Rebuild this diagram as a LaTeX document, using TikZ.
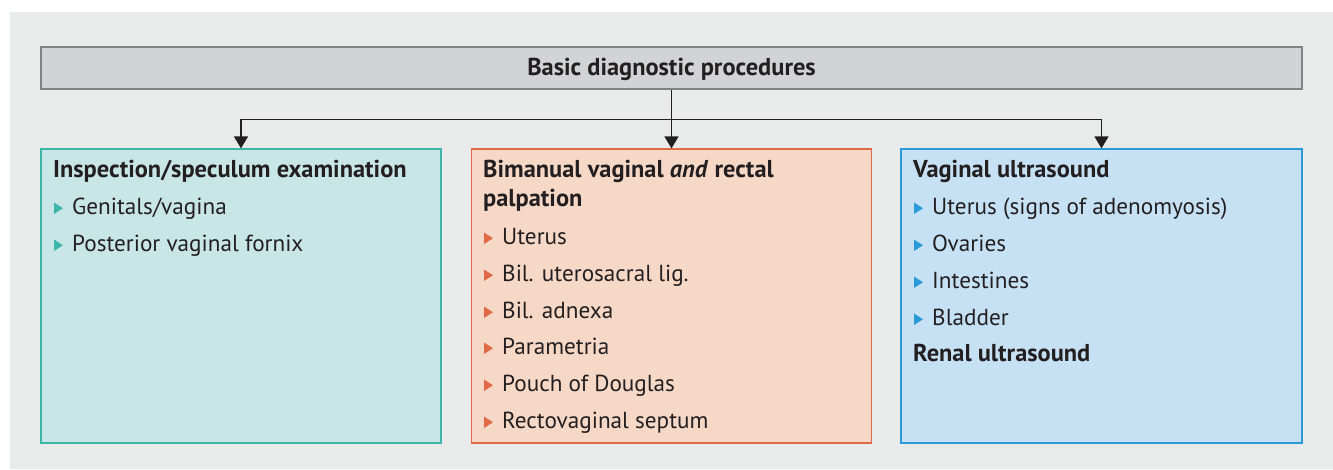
\documentclass[tikz,border=0pt]{standalone}
\usepackage{fontspec}
\setmainfont{PT Sans}
\usetikzlibrary{arrows.meta}
\definecolor{bgc}{HTML}{E9EBEA}
\definecolor{topfill}{HTML}{D1D3D4}
\definecolor{topdraw}{HTML}{808285}
\definecolor{tealfill}{HTML}{C8E6E5}
\definecolor{tealdraw}{HTML}{3DB5A8}
\definecolor{orfill}{HTML}{F6D8C7}
\definecolor{ordraw}{HTML}{E06A48}
\definecolor{bluefill}{HTML}{C6E1F4}
\definecolor{bluedraw}{HTML}{2A9BD8}
\definecolor{ink}{HTML}{231F20}
\newcommand{\bulletmark}[3]{\fill[#1] (#2,#3) -- ++(9,-5.75) -- ++(-9,-5.75) -- cycle;}
\begin{document}
\begin{tikzpicture}[x=1pt,y=-1pt,
  every node/.style={text=ink},
  topbox/.style={draw=topdraw, fill=topfill, line width=1.2pt, minimum width=1261pt, minimum height=42pt, inner sep=0pt},
  panel/.style={line width=1.2pt, minimum height=294pt, inner sep=0pt},
  txt/.style={anchor=base west, inner sep=0pt, font=\fontsize{23.2}{26}\selectfont},
  ttl/.style={txt, font=\fontsize{24.4}{28}\selectfont\bfseries},
  arr/.style={draw=ink, line width=1.3pt, -{Triangle[length=12pt,width=14pt]}}
]
\useasboundingbox (0,0) rectangle (1333,469);
\fill[bgc] (10,12) rectangle (1333,469);

\node[topbox] (top) at (671.5,68) {};
\node[ttl, anchor=base] (toptxt) at (671.5,75) {Basic diagnostic procedures};

\node[panel, draw=tealdraw, fill=tealfill, minimum width=400pt] (left) at (241,296) {};
\node[panel, draw=ordraw, fill=orfill, minimum width=400pt] (mid) at (671.5,296) {};
\node[panel, draw=bluedraw, fill=bluefill, minimum width=401pt] (right) at (1101.5,296) {};

\draw[arr] (top.south) -- (mid.north);
\draw[arr] (top.south) ++(0,30) -| (left.north);
\draw[arr] (top.south) ++(0,30) -| (right.north);

% left
\node[ttl] (l0) at (53,177) {Inspection/speculum examination};
\bulletmark{tealdraw}{54}{214}
\node[txt] (l1) at (72,214) {Genitals/vagina};
\bulletmark{tealdraw}{54}{251}
\node[txt] (l2) at (72,251) {Posterior vaginal fornix};

% middle
\node[ttl] (m0) at (483,177) {Bimanual vaginal \textit{and} rectal};
\node[ttl] (m0b) at (483,206) {palpation};
\bulletmark{ordraw}{484}{244}
\node[txt] (m1) at (502,244) {Uterus};
\bulletmark{ordraw}{484}{281}
\node[txt] (m2) at (502,281) {Bil. uterosacral lig.};
\bulletmark{ordraw}{484}{318}
\node[txt] (m3) at (502,318) {Bil. adnexa};
\bulletmark{ordraw}{484}{354}
\node[txt] (m4) at (502,354) {Parametria};
\bulletmark{ordraw}{484}{391}
\node[txt] (m5) at (502,391) {Pouch of Douglas};
\bulletmark{ordraw}{484}{428}
\node[txt] (m6) at (502,428) {Rectovaginal septum};

% right
\node[ttl] (r0) at (913,177) {Vaginal ultrasound};
\bulletmark{bluedraw}{914}{214}
\node[txt] (r1) at (932,214) {Uterus (signs of adenomyosis)};
\bulletmark{bluedraw}{914}{251}
\node[txt] (r2) at (932,251) {Ovaries};
\bulletmark{bluedraw}{914}{288}
\node[txt] (r3) at (932,288) {Intestines};
\bulletmark{bluedraw}{914}{325}
\node[txt] (r4) at (932,325) {Bladder};
\node[ttl] (r5) at (913,361) {Renal ultrasound};
\end{tikzpicture}
\end{document}
